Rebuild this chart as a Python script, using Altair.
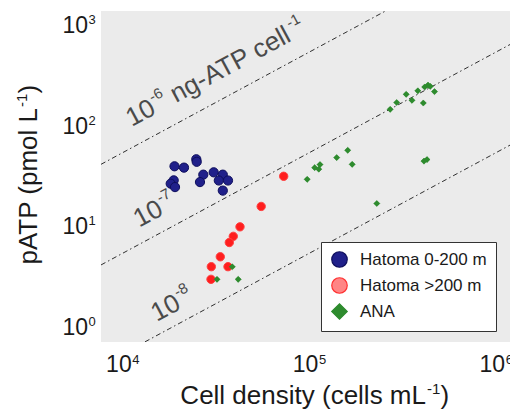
import math
import altair as alt
import pandas as pd

FONT = "Liberation Sans"

# ---------------- data ----------------
series = ["Hatoma 0-200 m", "Hatoma >200 m", "ANA"]

blue_x = [19760, 22210, 25850, 25980, 28180, 32030, 35840, 34120, 38210, 35840, 27050, 19560, 18850, 19880]
blue_y = [39.6, 38.4, 46.5, 43.9, 32.7, 34.5, 32.7, 28.6, 28.6, 22.7, 27.6, 28.7, 26.6, 24.6]

red_x = [75950, 57540, 44310, 40790, 38840, 34750, 31110, 38210, 30990]
red_y = [31.5, 15.8, 9.91, 7.97, 6.92, 4.99, 3.98, 3.98, 2.98]

green_x = [40290, 33370, 43350, 101500, 111300, 118850, 117100, 146000, 167300, 176800,
           239400, 428500, 444600, 282500, 306000, 344100, 369600, 397200, 424900, 432300,
           450300, 463300, 487900]
green_y = [3.97, 2.98, 2.98, 29.4, 38.4, 41.2, 37.1, 48.3, 57.1, 41.4,
           16.9, 44.6, 46.2, 145.9, 170.4, 205.7, 179.3, 222.8, 168.5, 243.1,
           253.9, 246.9, 218.8]

# reference lines: pATP = ratio * cell density  (10^-6, 10^-7, 10^-8 ng-ATP cell^-1)
line_exp = ["-6", "-7", "-8"]
line_ratio = [5.19e-3, 5.19e-4, 5.19e-5]
label_x = [11650, 12800, 15860]
label_y = [97.3, 9.7, 1.12]

x_ticks = [1e4, 1e5, 1e6]
y_ticks = [1, 10, 100, 1000]
x_dom = [7980, 1.238e6]
y_dom = [0.71, 1384]

# ---------------- styles ----------------
leg_fills = ["#20208A", "#FF8585", "#2E8B2E"]
leg_strokes = ["#0E0E5C", "#FF3030", "#2E8B2E"]
pt_fills = ["#20208A", "#FF1E1E", "#2E8B2E"]
pt_strokes = ["#0E0E5C", "#FF4040", "#2E8B2E"]
pt_width = [1, 1, 0.5]
shapes = ["circle", "circle", "diamond"]
sizes = [85, 70, 38]
W, H = 409, 331
TXT = "#1A1A1A"
LAB = "#4A4A4A"
LEG_SYM = 240

x_scale = alt.Scale(type="log", domain=x_dom, nice=False)
y_scale = alt.Scale(type="log", domain=y_dom, nice=False)

rows = []
for s, xs, ys in zip(series, [blue_x, red_x, green_x], [blue_y, red_y, green_y]):
    for a, b in zip(xs, ys):
        rows.append({"series": s, "x": a, "y": b})
pts = pd.DataFrame(rows)

x_axis = alt.Axis(values=x_ticks, labels=False, domain=False, ticks=True, tickSize=4,
                  tickColor="#333333", tickWidth=1, grid=True, gridColor="white",
                  gridWidth=2, title=None)
y_axis = alt.Axis(values=y_ticks, labels=False, domain=False, ticks=True, tickSize=4,
                  tickColor="#333333", tickWidth=1, grid=True, gridColor="white",
                  gridWidth=2, title=None)
XE = alt.X("x:Q", scale=x_scale, axis=None)
YE = alt.Y("y:Q", scale=y_scale, axis=None)

# reference lines
lrows = []
for e, r in zip(line_exp, line_ratio):
    for xv in x_dom:
        lrows.append({"k": e, "x": xv, "y": r * xv})
lines = alt.Chart(pd.DataFrame(lrows)).mark_line(
    clip=True, color="#1A1A1A", strokeWidth=0.9, strokeDash=[5, 3, 1.5, 3]
).encode(x=XE, y=YE, detail="k:N")

# legend-carrying layer (small points, covered by the styled layers below)
leg = alt.Legend(title=None, symbolSize=LEG_SYM)
carrier = alt.Chart(pts).mark_point(filled=True, strokeWidth=1, opacity=1, size=20).encode(
    x=alt.X("x:Q", scale=x_scale, axis=x_axis),
    y=alt.Y("y:Q", scale=y_scale, axis=y_axis),
    color=alt.Color("series:N", scale=alt.Scale(domain=series, range=leg_fills), legend=leg),
    stroke=alt.Stroke("series:N", scale=alt.Scale(domain=series, range=leg_strokes), legend=leg),
    shape=alt.Shape("series:N", scale=alt.Scale(domain=series, range=shapes), legend=leg),
)

overlays = []
for i, s in enumerate(series):
    overlays.append(
        alt.Chart(pts[pts.series == s]).mark_point(
            filled=True, shape=shapes[i], size=sizes[i], fill=pt_fills[i], stroke=pt_strokes[i],
            strokeWidth=pt_width[i], opacity=1
        ).encode(x=XE, y=YE)
    )

# diagonal labels
ANG = 360 - math.degrees(math.atan((H / math.log10(y_dom[1] / y_dom[0])) / (W / math.log10(x_dom[1] / x_dom[0]))))
FS, FSS = 26, 15
lab_df = pd.DataFrame({"x": label_x, "y": label_y, "e": line_exp})
w10 = 1.112 * FS
wsup = 0.889 * FSS
unit_dx = w10 + 1 + wsup + 0.278 * FS
lab10 = alt.Chart(lab_df).mark_text(text="10", align="left", baseline="alphabetic", angle=ANG,
                                    font=FONT, fontSize=FS, color=LAB).encode(x=XE, y=YE)
labexp = alt.Chart(lab_df).mark_text(align="left", baseline="alphabetic", angle=ANG, dx=w10 + 1, dy=-12,
                                     font=FONT, fontSize=FSS, color=LAB).encode(text="e:N", x=XE, y=YE)
labunit = alt.Chart(lab_df.iloc[:1]).mark_text(text="ng-ATP cell", align="left", baseline="alphabetic",
                                               angle=ANG, dx=unit_dx, font=FONT, fontSize=FS,
                                               color=LAB).encode(x=XE, y=YE)
labunit_sup = alt.Chart(lab_df.iloc[:1]).mark_text(text="-1", align="left", baseline="alphabetic", angle=ANG,
                                                   dx=unit_dx + 5.168 * FS + 1, dy=-12, font=FONT,
                                                   fontSize=FSS, color=LAB).encode(x=XE, y=YE)

# axis tick labels (10 with superscript exponent)
xt = pd.DataFrame({"v": x_ticks, "e": [str(int(round(math.log10(v)))) for v in x_ticks]})
yt = pd.DataFrame({"v": y_ticks, "e": [str(int(round(math.log10(v)))) for v in y_ticks]})
TFS, TFE = 23, 13
xlab10 = alt.Chart(xt).mark_text(text="10", align="right", baseline="alphabetic", dx=12.4, font=FONT,
                                 fontSize=TFS, color=TXT).encode(
    x=alt.X("v:Q", scale=x_scale, axis=None), y=alt.value(H + 30))
xlabe = alt.Chart(xt).mark_text(align="left", baseline="alphabetic", dx=13, font=FONT, fontSize=TFE,
                                color=TXT).encode(
    x=alt.X("v:Q", scale=x_scale, axis=None), y=alt.value(H + 22), text="e:N")
ylab10 = alt.Chart(yt).mark_text(text="10", align="right", baseline="alphabetic", dy=8, font=FONT,
                                 fontSize=TFS, color=TXT).encode(
    y=alt.Y("v:Q", scale=y_scale, axis=None), x=alt.value(-13))
ylabe = alt.Chart(yt).mark_text(align="left", baseline="alphabetic", dy=-1, font=FONT, fontSize=TFE,
                                color=TXT).encode(
    y=alt.Y("v:Q", scale=y_scale, axis=None), x=alt.value(-12.5), text="e:N")

# axis titles
one = pd.DataFrame({"a": [0]})
TT, TS = 26, 15
xt_main = alt.Chart(one).mark_text(text="Cell density (cells mL", align="right", baseline="alphabetic",
                                   font=FONT, fontSize=TT, color=TXT).encode(x=alt.value(325), y=alt.value(H + 62))
xt_sup = alt.Chart(one).mark_text(text="-1", align="left", baseline="alphabetic", font=FONT, fontSize=TS,
                                  color=TXT).encode(x=alt.value(326), y=alt.value(H + 52))
xt_par = alt.Chart(one).mark_text(text=")", align="left", baseline="alphabetic", font=FONT, fontSize=TT,
                                  color=TXT).encode(x=alt.value(339.5), y=alt.value(H + 62))
yt_main = alt.Chart(one).mark_text(text="pATP (pmol L", align="right", baseline="alphabetic", angle=270,
                                   font=FONT, fontSize=TT, color=TXT).encode(x=alt.value(-64.5), y=alt.value(97))
yt_sup = alt.Chart(one).mark_text(text="-1", align="left", baseline="alphabetic", angle=270, dx=1, dy=-10,
                                  font=FONT, fontSize=TS, color=TXT).encode(x=alt.value(-64.5), y=alt.value(97))
yt_par = alt.Chart(one).mark_text(text=")", align="left", baseline="alphabetic", angle=270, dx=14.5,
                                  font=FONT, fontSize=TT, color=TXT).encode(x=alt.value(-64.5), y=alt.value(97))

chart = alt.layer(
    lines, carrier, *overlays,
    lab10, labexp, labunit, labunit_sup,
    xlab10, xlabe, ylab10, ylabe,
    xt_main, xt_sup, xt_par, yt_main, yt_sup, yt_par,
).properties(
    width=W, height=H,
    autosize=alt.AutoSizeParams(type="none"),
    padding={"left": 93, "top": 3, "right": 0, "bottom": 67},
).configure_view(
    fill="#EBEBEB", stroke=None
).configure_legend(
    orient="none", legendX=220, legendY=231, fillColor="white", strokeColor="#333333",
    padding=9, rowPadding=5, symbolSize=LEG_SYM, symbolStrokeWidth=1.2,
    labelFontSize=17, labelFont=FONT, labelColor=TXT, labelOffset=12, symbolOffset=1,
    cornerRadius=0,
)

chart.save("out.html", embed_options={"renderer": "svg", "actions": False})
